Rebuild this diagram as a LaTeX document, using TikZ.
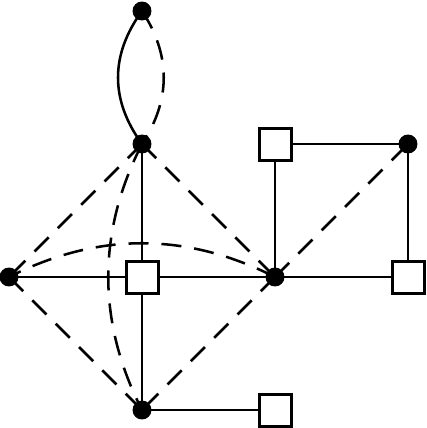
\documentclass[tikz,border=0pt]{standalone}
\usetikzlibrary{backgrounds}

\tikzset{every picture/.style={line width=1.9pt}}
\tikzset{
	vtx/.style={circle, fill=black, inner sep=0pt, minimum size=14.2pt},
	box/.style={rectangle, draw=black, fill=white, line width=2.25pt, inner sep=0pt, minimum size=24pt},
	dsh/.style={dash pattern=on 15pt off 9.75pt}
}

\begin{document}
\begin{tikzpicture}[x=0.75pt,y=0.75pt,yscale=-1,xscale=1]
	\useasboundingbox (0,0) rectangle (426,428);

	%Shape: Circle
	\node [vtx] (c1) at (142,11) {};
	\node [vtx] (c2) at (142,144) {};
	\node [vtx] (c3) at (408,144) {};
	\node [vtx] (c4) at (9,277) {};
	\node [vtx] (c5) at (275,277) {};
	\node [vtx] (c6) at (142,410) {};
	%Shape: Square
	\node [box] (s1) at (275,144) {};
	\node [box] (s2) at (142,277) {};
	\node [box] (s3) at (408,277) {};
	\node [box] (s4) at (275,410) {};

	\begin{pgfonlayer}{background}
	\begin{scope}[line width=1.9pt]
	%Curve Lines
	\draw (c1.center) .. controls +(-32,44) and +(-32,-44) .. (c2.center);
	\draw [dsh] (c1.center) .. controls +(29,44) and +(29,-44) .. (c2.center);
	\draw [dsh] (c2.center) .. controls +(-45,88) and +(-45,-88) .. (c6.center);
	\draw [dsh] (c5.center) .. controls +(-89,-45) and +(89,-45) .. (c4.center);
	%Straight Lines
	\draw (c2.center) -- (s2.center) -- (c6.center) -- (s4.center);
	\draw (c4.center) -- (s2.center) -- (c5.center) -- (s3.center);
	\draw (c5.center) -- (s1.center) -- (c3.center) -- (s3.center);
	\draw [dsh] (c2.center) -- (c4.center);
	\draw [dsh] (c2.center) -- (c5.center);
	\draw [dsh] (c5.center) -- (c3.center);
	\draw [dsh] (c4.center) -- (c6.center);
	\draw [dsh] (c5.center) -- (c6.center);
	\end{scope}
	\end{pgfonlayer}

\end{tikzpicture}
\end{document}
